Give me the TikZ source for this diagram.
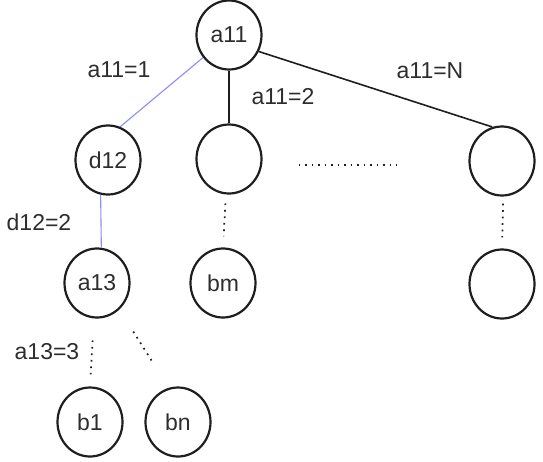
\documentclass[tikz,border=0pt]{standalone}
\usepackage{fontspec}
\setmainfont{Liberation Sans}
\usetikzlibrary{shapes.geometric}
\definecolor{ink}{RGB}{30,30,30}
\definecolor{txt}{RGB}{45,45,45}
\definecolor{bluel}{RGB}{140,140,250}
\tikzset{
  tnode/.style={ellipse, draw=ink, line width=2.2pt, minimum width=65pt, minimum height=69pt, inner sep=0pt, font=\fontsize{23}{26}\selectfont, text=txt},
  edge/.style={draw=ink, line width=1.6pt},
  bedge/.style={draw=bluel, line width=1.1pt},
  dots/.style={draw=ink, line width=1.7pt, dash pattern=on 1.7pt off 4.8pt},
  lbl/.style={font=\fontsize{23}{26}\selectfont, text=txt, inner sep=0pt}
}
\begin{document}
\begin{tikzpicture}[x=1pt,y=-1pt]
\useasboundingbox (0,0) rectangle (543,461);
\node[tnode] (a11) at (229,35) {a11};
\node[tnode] (d12) at (108,160) {d12};
\node[tnode] (c2) at (229,159) {};
\node[tnode] (cN) at (502,161) {};
\node[tnode] (a13) at (97,283) {a13};
\node[tnode] (bm) at (223,283) {bm};
\node[tnode] (cN2) at (502,284) {};
\node[tnode] (b1) at (90,422) {b1};
\node[tnode] (bn) at (178,422) {bn};

\draw[bedge] (a11.221) -- (d12.70);
\draw[edge] (a11.south) -- (c2.north);
\draw[edge] (a11.331) -- (cN.106);
\draw[bedge] (d12.258) -- (a13.83);

\draw[dots, shorten <=9pt, shorten >=11pt] (c2.265) -- (bm.north);
\draw[dots, shorten <=7pt, shorten >=11pt] (cN.272) -- (cN2.north);
\draw[dots, shorten <=22pt, shorten >=12pt] (a13.265) -- (b1.north);
\draw[dots, shorten <=26pt, shorten >=31pt] (a13.310) -- (bn.105);
\draw[dots, shorten <=36pt, shorten >=72pt] ([yshift=-6pt]c2.east) -- ([yshift=-4pt]cN.west);

\node[lbl] (l1) at (119,70) {a11=1};
\node[lbl] (l2) at (283,97) {a11=2};
\node[lbl] (lN) at (430,71) {a11=N};
\node[lbl] (l3) at (39,222) {d12=2};
\node[lbl] (l4) at (47,352) {a13=3};
\end{tikzpicture}
\end{document}
